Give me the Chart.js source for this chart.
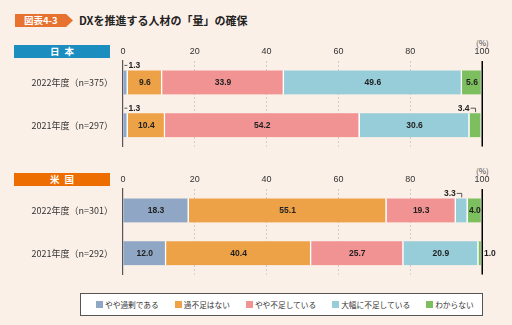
<!DOCTYPE html>
<html>
<head>
<meta charset="utf-8">
<script src="https://cdn.jsdelivr.net/npm/chart.js@4.4.0/dist/chart.umd.min.js"></script>
<style>
body { margin: 0; width: 512px; height: 325px; background: #fbf0e8; position: relative; overflow: hidden;
       font-family: "Noto Sans CJK JP", "Noto Sans", sans-serif; color: #222; }
.tag { position: absolute; left: 15px; top: 14px; width: 58px; height: 13px; background: #e7722f;
       clip-path: polygon(0 0, 88% 0, 100% 50%, 88% 100%, 0 100%); color: #fff; font-size: 9.5px;
       font-weight: bold; line-height: 13px; padding-left: 9px; box-sizing: border-box; }
.title { position: absolute; left: 79px; top: 12px; font-size: 11px; font-weight: bold; line-height: 16px; }
.region { position: absolute; left: 14px; width: 96px; height: 13px; color: #fff; font-size: 9.5px;
          font-weight: bold; text-align: center; line-height: 13px; letter-spacing: 5px; text-indent: 5px; }
.pct { position: absolute; left: 476px; font-size: 8px; color: #444; line-height: 9px; }
.wrap { position: absolute; left: 0; width: 512px; height: 122px; }
.legend { position: absolute; left: 80px; top: 293px; width: 403px; height: 23px; box-sizing: border-box;
          border: 1px solid #555; background: #fff; display: flex; align-items: center; padding-left: 15px; gap: 16px;
          font-size: 7.7px; color: #333; }
.legend span { display: flex; align-items: center; }
.legend i { display: inline-block; width: 7px; height: 7px; margin-right: 2px; }
</style>
</head>
<body>
<div class="tag">図表4-3</div>
<div class="title">DXを推進する人材の「量」の確保</div>

<div class="region" style="top:45px;background:#1b8dbf;">日本</div>
<div class="pct" style="top:38px;">(%)</div>
<div class="wrap" style="top:40px;"><canvas id="jp"></canvas></div>

<div class="region" style="top:173px;background:#ee6d00;">米国</div>
<div class="pct" style="top:166px;">(%)</div>
<div class="wrap" style="top:168px;"><canvas id="us"></canvas></div>

<div class="legend" id="legend"></div>

<script>
// categories (answers) and colors
const categories = ['やや過剰である', '過不足はない', 'やや不足している', '大幅に不足している', 'わからない'];
const colors = ['#8fa6c4', '#eea247', '#f19293', '#97cdd9', '#7dbf5f'];

// rows
const jpYears = ['2022年度（n=375）', '2021年度（n=297）'];
const usYears = ['2022年度（n=301）', '2021年度（n=292）'];

// values per category: [2022, 2021]
const jpValues = [[1.3, 1.3], [9.6, 10.4], [33.9, 54.2], [49.6, 30.6], [5.6, 3.4]];
const usValues = [[18.3, 12.0], [55.1, 40.4], [19.3, 25.7], [3.3, 20.9], [4.0, 1.0]];

const tickValues = [0, 20, 40, 60, 80, 100];

// draws the value labels and the solid line at 100
const barLabels = {
    id: 'barLabels',
    afterDatasetsDraw(chart) {
        const ctx = chart.ctx;
        const xs = chart.scales.x;
        const area = chart.chartArea;
        ctx.save();

        // line at 100
        ctx.strokeStyle = '#000';
        ctx.lineWidth = 1.5;
        ctx.beginPath();
        const x100 = Math.round(xs.getPixelForValue(100)) + 0.25;
        ctx.moveTo(x100, area.top);
        ctx.lineTo(x100, area.bottom);
        ctx.stroke();

        ctx.font = 'bold 8.5px "Liberation Sans", Arial, sans-serif';
        ctx.fillStyle = '#222';
        ctx.strokeStyle = '#333';
        ctx.lineWidth = 0.8;
        ctx.textBaseline = 'middle';

        chart.data.datasets.forEach((ds, di) => {
            chart.getDatasetMeta(di).data.forEach((bar, i) => {
                const v = ds.data[i];
                const left = Math.min(bar.x, bar.base);
                const right = Math.max(bar.x, bar.base);
                const top = bar.y - bar.height / 2;
                const txt = v.toFixed(1);
                if (v >= 3.5) {
                    ctx.textAlign = 'center';
                    ctx.fillText(txt, (left + right) / 2, bar.y + 0.5);
                } else if (di === ds.length || (right >= xs.getPixelForValue(99.9) && v < 2)) {
                    ctx.textAlign = 'left';
                    ctx.fillText(txt, right + 2, bar.y + 0.5);
                } else if (di === 0) {
                    const ly = top - 5;
                    ctx.beginPath();
                    ctx.moveTo(left + 1, ly);
                    ctx.lineTo(left + 4, ly);
                    ctx.stroke();
                    ctx.textAlign = 'left';
                    ctx.fillText(txt, left + 5, ly);
                } else {
                    const mid = (left + right) / 2;
                    const ly = top - 5;
                    ctx.beginPath();
                    ctx.moveTo(mid - 5, ly);
                    ctx.lineTo(mid, ly);
                    ctx.lineTo(mid, top - 1);
                    ctx.stroke();
                    ctx.textAlign = 'right';
                    ctx.fillText(txt, mid - 6, ly);
                }
            });
        });
        ctx.restore();
    }
};

function makeChart(id, years, values) {
    return new Chart(document.getElementById(id), {
        type: 'bar',
        data: {
            labels: years,
            datasets: categories.map((c, k) => ({
                label: c,
                data: values[k],
                backgroundColor: colors[k],
                borderColor: '#fff',
                borderWidth: { left: 0, right: 1.5, top: 0, bottom: 0 },
                borderSkipped: false,
                barThickness: 24
            }))
        },
        options: {
            indexAxis: 'y',
            responsive: true,
            maintainAspectRatio: false,
            animation: false,
            layout: { padding: { left: 0, right: 30, top: 0, bottom: 1 } },
            plugins: { legend: { display: false }, tooltip: { enabled: false } },
            scales: {
                x: {
                    stacked: true,
                    position: 'top',
                    min: 0,
                    max: 100,
                    afterFit: s => { s.height = 21; },
                    afterBuildTicks: s => { s.ticks = tickValues.map(v => ({ value: v })); },
                    ticks: { padding: 4, color: '#333', font: { size: 9, family: '"Liberation Sans", Arial' } },
                    grid: {
                        drawTicks: false,
                        color: c => (c.tick && (c.tick.value === 0 || c.tick.value === 100)) ? 'rgba(0,0,0,0)' : '#c4c4c4',
                        lineWidth: 0.8
                    },
                    border: { display: false, dash: [2, 2] }
                },
                y: {
                    stacked: true,
                    afterFit: s => { s.width = 123; },
                    ticks: { padding: 10, color: '#333', font: { size: 9, family: '"Noto Sans CJK JP"' } },
                    grid: { display: false, drawTicks: false },
                    border: { display: true, color: '#555', width: 1.2 }
                }
            }
        },
        plugins: [barLabels]
    });
}

makeChart('jp', jpYears, jpValues);
makeChart('us', usYears, usValues);

// legend
const legend = document.getElementById('legend');
categories.forEach((c, k) => {
    const s = document.createElement('span');
    s.innerHTML = '<i style="background:' + colors[k] + '"></i>' + c;
    legend.appendChild(s);
});
</script>
</body>
</html>
